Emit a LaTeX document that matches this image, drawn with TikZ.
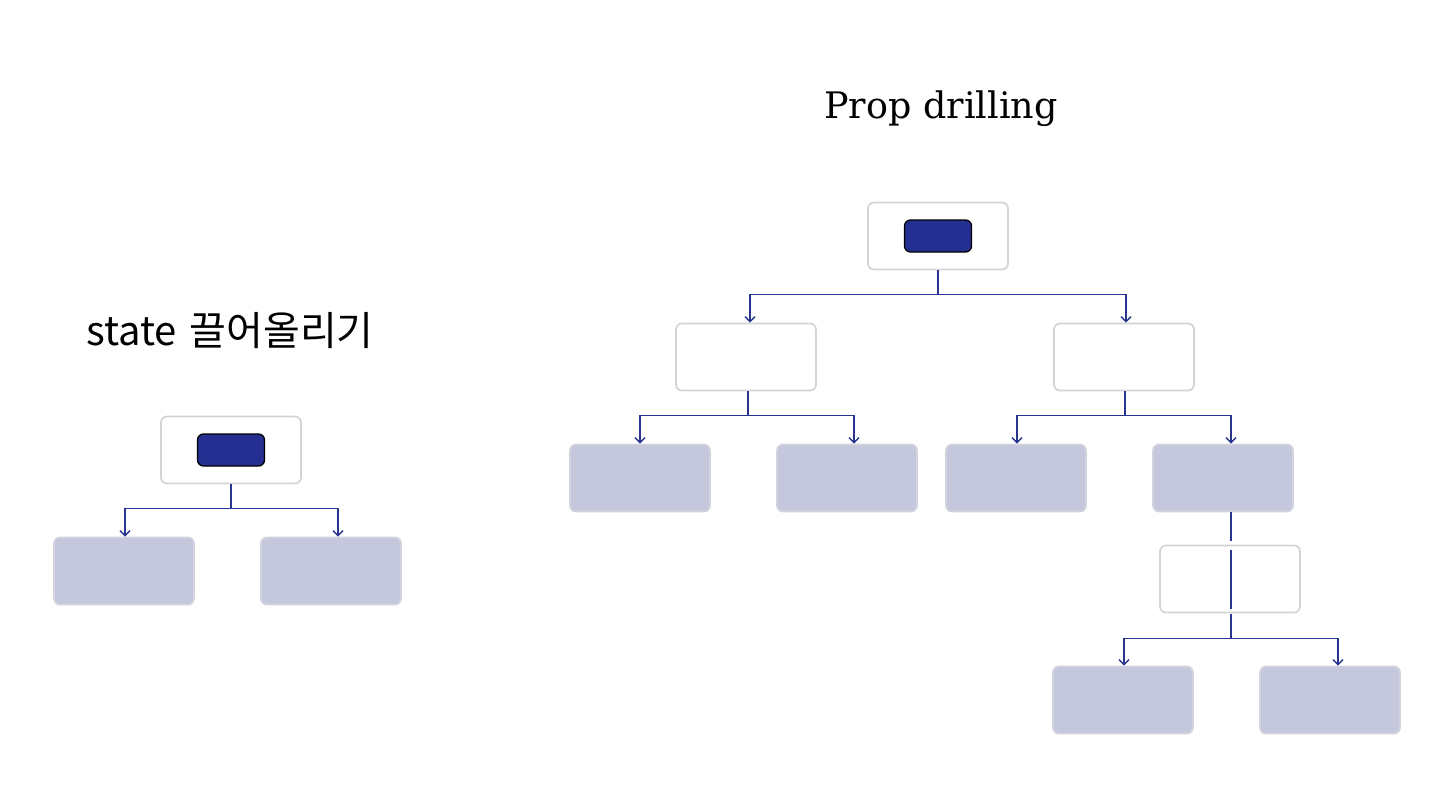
\documentclass[tikz,border=0pt]{standalone}
\usepackage{fontspec}
\newfontfamily\korfont{Noto Sans CJK KR}
\newfontfamily\titlefont{DejaVu Serif}
\usetikzlibrary{arrows.meta}
\definecolor{navy}{HTML}{252F91}
\definecolor{linecol}{HTML}{2A3592}
\definecolor{boxgray}{HTML}{D4D4D4}
\definecolor{leaffill}{HTML}{C5C7DD}
\definecolor{leafline}{HTML}{D2D3DE}
\begin{document}
\begin{tikzpicture}[x=1pt,y=-1pt,
  box/.style={draw=boxgray, line width=1.7pt, fill=white, rounded corners=6pt, minimum width=140pt, minimum height=67pt, inner sep=0pt},
  leaf/.style={box, fill=leaffill, draw=leafline},
  statebox/.style={draw=black, line width=1.3pt, fill=navy, rounded corners=6pt, minimum width=67pt, minimum height=32pt, inner sep=0pt},
  conn/.style={draw=linecol, line width=1.5pt},
  arr/.style={conn, -{Straight Barb[length=5pt,width=10pt]}}]
\useasboundingbox (0,0) rectangle (1445,809);
% titles
\node[font=\titlefont\fontsize{36.5}{42}\selectfont, anchor=base] (t1) at (941,118) {Prop drilling};
\node[font=\korfont\fontsize{40}{46}\selectfont, anchor=base] (t2) at (230,345) {state\hspace{0.1em} 끌어올리기};
% left tree
\node[box] (A) at (231,450) {};
\node[statebox] (As) at (231,450) {};
\node[leaf] (A1) at (124,571) {};
\node[leaf] (A2) at (331,571) {};
\draw[arr] (A.south) -- ++(0,24) -| ([xshift=1pt]A1.north);
\draw[arr] (A.south) -- ++(0,24) -| ([xshift=7pt]A2.north);
% right tree
\node[box] (R) at (938,236) {};
\node[statebox] (Rs) at (938,236) {};
\node[box] (M1) at (746,357) {};
\node[box] (M2) at (1124,357) {};
\node[leaf] (L1) at (640,478) {};
\node[leaf] (L2) at (847,478) {};
\node[leaf] (L3) at (1016,478) {};
\node[leaf] (L4) at (1223,478) {};
\node[box] (M3) at (1230,579) {};
\node[leaf] (L5) at (1123,700) {};
\node[leaf] (L6) at (1330,700) {};
\draw[arr] (R.south) -- ++(0,24) -| ([xshift=4pt]M1.north);
\draw[arr] (R.south) -- ++(0,24) -| ([xshift=2pt]M2.north);
\draw[arr] ([xshift=2pt]M1.south) -- ++(0,24) -| (L1.north);
\draw[arr] ([xshift=2pt]M1.south) -- ++(0,24) -| ([xshift=7pt]L2.north);
\draw[arr] ([xshift=1pt]M2.south) -- ++(0,24) -| ([xshift=1pt]L3.north);
\draw[arr] ([xshift=1pt]M2.south) -- ++(0,24) -| ([xshift=8pt]L4.north);
\draw[conn] ([xshift=8pt]L4.south) -- ([xshift=1pt,yshift=4pt]M3.north);
\draw[conn] ([xshift=1pt,yshift=-5pt]M3.north) -- ([xshift=1pt,yshift=4pt]M3.south);
\draw[arr] ([xshift=1pt,yshift=-1pt]M3.south) -- ++(0,24) -| ([xshift=1pt]L5.north);
\draw[arr] ([xshift=1pt,yshift=-1pt]M3.south) -- ++(0,24) -| ([xshift=8pt]L6.north);
\end{tikzpicture}
\end{document}
